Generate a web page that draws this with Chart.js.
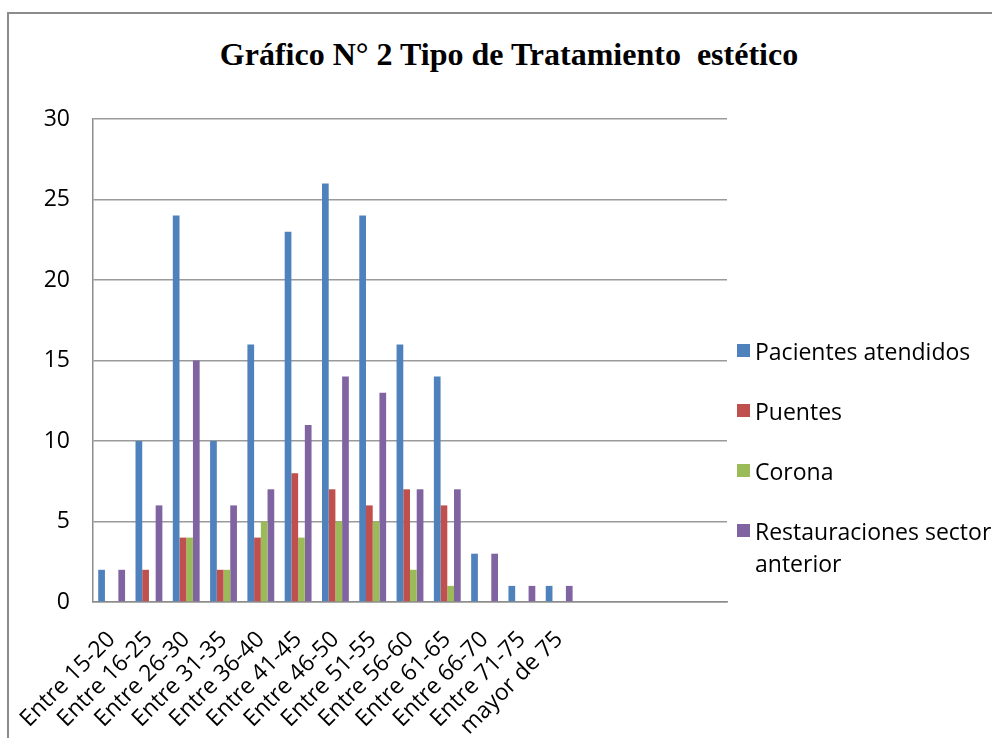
<!DOCTYPE html>
<html lang="es">
<head>
<meta charset="utf-8">
<title>Gráfico N° 2 Tipo de Tratamiento estético</title>
<script src="https://cdn.jsdelivr.net/npm/chart.js@4.4.1/dist/chart.umd.min.js"></script>
<style>
  html, body { margin: 0; padding: 0; overflow: hidden; background: #fff; }
  #frame {
    position: absolute; left: 7px; top: 12px;
    width: 1000px; height: 740px;
    border: 2px solid #8c8c8c; background: #fff;
  }
  #titulo {
    position: absolute; left: 0; top: 21px; width: 1000px;
    margin: 0; text-align: center;
    font: bold 32px/38px 'Liberation Serif', 'Times New Roman', serif;
    color: #000; white-space: pre;
  }
  #grafico { position: absolute; left: 0; top: 0; }
  #leyenda {
    position: absolute; left: 728px; top: 321px;
    margin: 0; padding: 0; list-style: none;
    font: 23px/32px 'Open Sans', sans-serif; color: #000;
  }
  #leyenda li { display: flex; align-items: flex-start; margin-bottom: 28px; }
  #leyenda .caja { flex: none; width: 13px; height: 13px; margin: 9px 5px 0 0; }
  #leyenda .texto { width: 245px; }
</style>
</head>
<body>
<div id="frame">
  <h1 id="titulo">Gráfico N° 2 Tipo de Tratamiento  estético</h1>
  <canvas id="grafico" width="730" height="726"></canvas>
  <ul id="leyenda"></ul>
</div>
<script>
// datos del gráfico
const categorias = ['Entre 15-20', 'Entre 16-25', 'Entre 26-30', 'Entre 31-35', 'Entre 36-40',
  'Entre 41-45', 'Entre 46-50', 'Entre 51-55', 'Entre 56-60', 'Entre 61-65',
  'Entre 66-70', 'Entre 71-75', 'mayor de 75', '', '', '', ''];
const pacientesAtendidos = [2, 10, 24, 10, 16, 23, 26, 24, 16, 14, 3, 1, 1];
const puentes = [0, 2, 4, 2, 4, 8, 7, 6, 7, 6, 0, 0, 0];
const corona = [0, 0, 4, 2, 5, 4, 5, 5, 2, 1, 0, 0, 0];
const restauraciones = [2, 6, 15, 6, 7, 11, 14, 13, 7, 7, 3, 1, 1];
const ticksY = [0, 5, 10, 15, 20, 25, 30];

Chart.defaults.font.family = "'Open Sans', sans-serif";
Chart.defaults.color = '#000';

// leyenda en HTML armada con los items que genera Chart.js
const leyendaHtml = {
  id: 'leyendaHtml',
  afterUpdate(chart) {
    const ul = document.getElementById('leyenda');
    ul.innerHTML = '';
    const items = chart.options.plugins.legend.labels.generateLabels(chart);
    items.forEach(item => {
      const li = document.createElement('li');
      const caja = document.createElement('span');
      caja.className = 'caja';
      caja.style.background = item.fillStyle;
      const texto = document.createElement('span');
      texto.className = 'texto';
      texto.textContent = item.text;
      li.appendChild(caja);
      li.appendChild(texto);
      ul.appendChild(li);
    });
  }
};

const ctx = document.getElementById('grafico').getContext('2d');
const myChart = new Chart(ctx, {
  type: 'bar',
  data: {
    labels: categorias,
    datasets: [
      { label: 'Pacientes atendidos', data: pacientesAtendidos, backgroundColor: '#4F81BD' },
      { label: 'Puentes', data: puentes, backgroundColor: '#C0504D' },
      { label: 'Corona', data: corona, backgroundColor: '#9BBB59' },
      { label: 'Restauraciones sector anterior', data: restauraciones, backgroundColor: '#8064A2' }
    ]
  },
  options: {
    responsive: false,
    animation: false,
    layout: { padding: { left: 0, right: 12, top: 105, bottom: 0 } },
    datasets: {
      bar: { categoryPercentage: 0.72, barPercentage: 1, borderWidth: 0 }
    },
    plugins: {
      title: { display: false },
      legend: { display: false },
      tooltip: { enabled: false }
    },
    scales: {
      x: {
        grid: { display: false, drawTicks: true, tickLength: 20 },
        border: { display: true, color: '#8c8c8c', width: 1.5 },
        ticks: {
          autoSkip: false,
          maxRotation: 45,
          minRotation: 45,
          padding: 4,
          color: '#000',
          font: { size: 23 }
        },
        afterFit(scale) { scale.height = 138; }
      },
      y: {
        min: ticksY[0],
        max: ticksY[ticksY.length - 1],
        grid: { color: '#9a9a9a', lineWidth: 1.5, drawTicks: false },
        border: { display: true, color: '#8c8c8c', width: 1.5 },
        ticks: {
          stepSize: ticksY[1] - ticksY[0],
          padding: 23,
          color: '#000',
          font: { size: 23 }
        },
        afterFit(scale) { scale.width = 84; }
      }
    }
  },
  plugins: [leyendaHtml]
});
</script>
</body>
</html>
